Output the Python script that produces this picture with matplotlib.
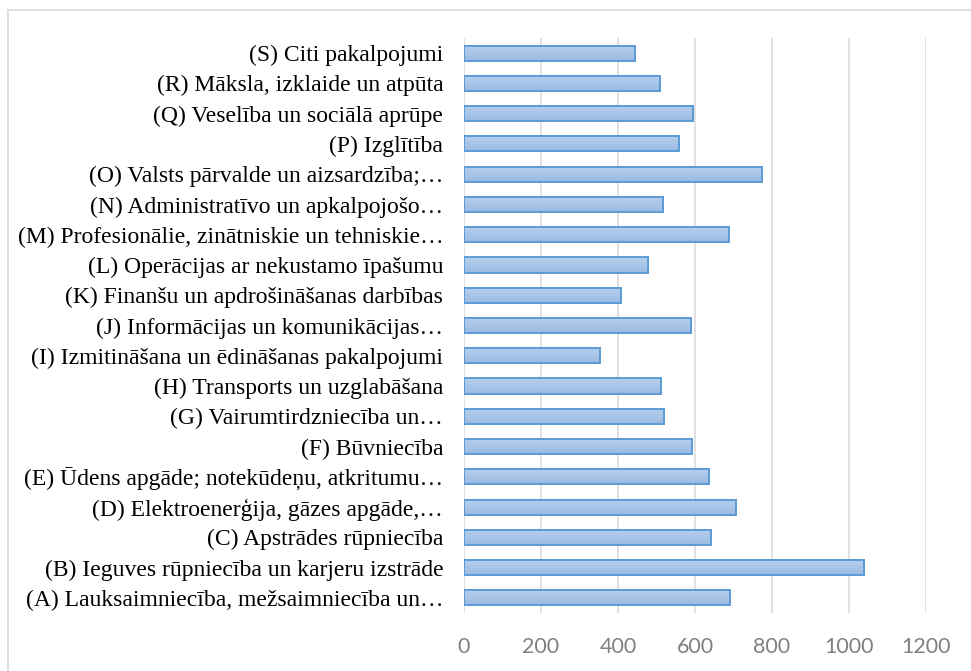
import numpy as np
import matplotlib
matplotlib.use("Agg")
import matplotlib.pyplot as plt
from matplotlib.colors import LinearSegmentedColormap
from matplotlib.patches import Rectangle

# Categories (bottom to top as drawn)
categories = [
    "(A) Lauksaimniecība, mežsaimniecība un…",
    "(B) Ieguves rūpniecība un karjeru izstrāde",
    "(C) Apstrādes rūpniecība",
    "(D) Elektroenerģija, gāzes apgāde,…",
    "(E) Ūdens apgāde; notekūdeņu, atkritumu…",
    "(F) Būvniecība",
    "(G) Vairumtirdzniecība un…",
    "(H) Transports un uzglabāšana",
    "(I) Izmitināšana un ēdināšanas pakalpojumi",
    "(J) Informācijas un komunikācijas…",
    "(K) Finanšu un apdrošināšanas darbības",
    "(L) Operācijas ar nekustamo īpašumu",
    "(M) Profesionālie, zinātniskie un tehniskie…",
    "(N) Administratīvo un apkalpojošo…",
    "(O) Valsts pārvalde un aizsardzība;…",
    "(P) Izglītība",
    "(Q) Veselība un sociālā aprūpe",
    "(R) Māksla, izklaide un atpūta",
    "(S) Citi pakalpojumi",
]
values = [690, 1039, 641, 706, 637, 592, 519, 512, 353, 590,
          408, 478, 688, 517, 774, 558, 595, 509, 444]
x_ticks = [0, 200, 400, 600, 800, 1000, 1200]

fig = plt.figure(figsize=(9.71, 6.71), dpi=100)
ax = fig.add_axes([0.4779, 0.0864, 0.4758, 0.857])

# chart border (right/bottom edges run off the image)
fig.patches.append(Rectangle((0.008, -0.05), 1.1, 1.035, transform=fig.transFigure,
                             fill=False, edgecolor="#d9d9d9", linewidth=1.2))

# vertical gradient fill for the bars
grad = LinearSegmentedColormap.from_list("barfill", ["#9bbbe4", "#b7cfec"])
gimg = np.linspace(0, 1, 50).reshape(-1, 1)
bar_h = 0.5

for i, v in enumerate(values):
    ax.imshow(gimg, cmap=grad, extent=[0, v, i - bar_h / 2, i + bar_h / 2],
              aspect="auto", origin="lower", zorder=2)
    ax.add_patch(Rectangle((0, i - bar_h / 2), v, bar_h, facecolor="none",
                           edgecolor="#5b9bd5", linewidth=1.4, zorder=3))

ax.set_xlim(0, 1200)
ax.set_ylim(-0.5, len(categories) - 0.5)
ax.set_xticks(x_ticks)
ax.set_xticklabels([str(t) for t in x_ticks], family="Lato", fontsize=15.5, color="#808080")
ax.set_yticks(range(len(categories)))
ax.set_yticklabels(categories, family="Liberation Serif", fontsize=17, color="#000000")
ax.tick_params(axis="both", length=0)
ax.tick_params(axis="y", pad=15)
ax.tick_params(axis="x", pad=17)
ax.grid(axis="x", color="#d9d9d9", linewidth=1.1, zorder=0)
ax.set_axisbelow(True)
for s in ax.spines.values():
    s.set_visible(False)

fig.savefig("out.png", dpi=100)
